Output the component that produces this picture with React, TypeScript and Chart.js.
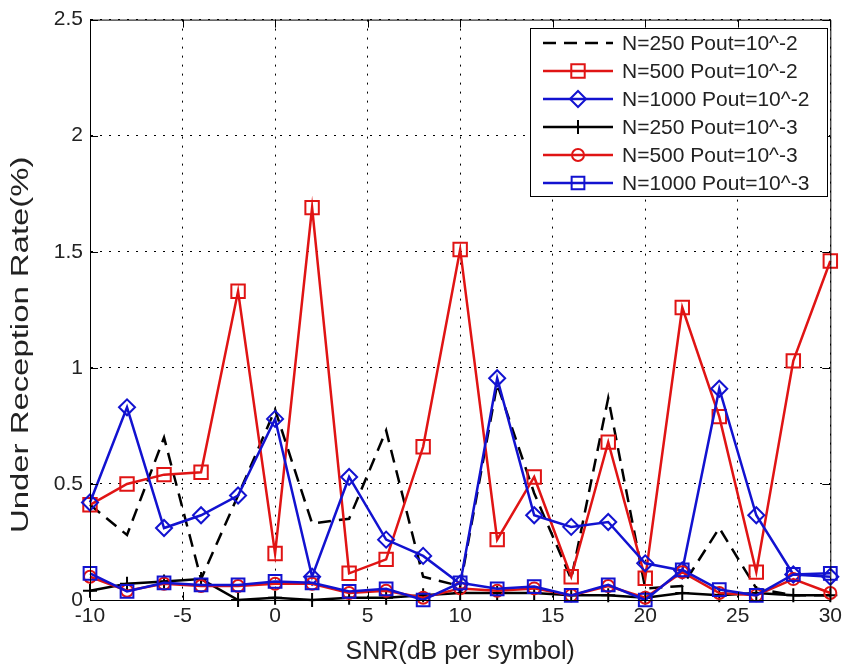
import React, { useEffect, useRef } from "react";
import { Chart, registerables } from "chart.js";
import { drawPoint } from "chart.js/helpers";

Chart.register(...registerables);

const snr = [-10, -8, -6, -4, -2, 0, 2, 4, 6, 8, 10, 12, 14, 16, 18, 20, 22, 24, 26, 28, 30];

const n250p2 = [0.41, 0.28, 0.70, 0.09, 0.45, 0.82, 0.33, 0.35, 0.73, 0.10, 0.06, 0.93, 0.46, 0.09, 0.87, 0.05, 0.06, 0.31, 0.05, 0.02, 0.02];
const n500p2 = [0.41, 0.50, 0.54, 0.55, 1.33, 0.20, 1.69, 0.115, 0.175, 0.66, 1.51, 0.26, 0.53, 0.10, 0.68, 0.094, 1.26, 0.79, 0.12, 1.03, 1.46];
const n1000p2 = [0.42, 0.83, 0.31, 0.365, 0.45, 0.78, 0.10, 0.53, 0.26, 0.19, 0.07, 0.955, 0.365, 0.315, 0.336, 0.158, 0.127, 0.91, 0.365, 0.11, 0.10];
const n250p3 = [0.04, 0.07, 0.08, 0.09, 0.0, 0.01, 0.0, 0.01, 0.01, 0.02, 0.03, 0.03, 0.03, 0.02, 0.02, 0.01, 0.03, 0.02, 0.03, 0.02, 0.02];
const n500p3 = [0.10, 0.04, 0.07, 0.06, 0.06, 0.07, 0.07, 0.03, 0.04, 0.01, 0.05, 0.04, 0.05, 0.02, 0.06, 0.01, 0.12, 0.03, 0.02, 0.09, 0.03];
const n1000p3 = [0.115, 0.037, 0.074, 0.065, 0.065, 0.08, 0.074, 0.037, 0.048, 0.0, 0.074, 0.048, 0.058, 0.02, 0.065, 0.0, 0.13, 0.045, 0.02, 0.11, 0.115];

const seriesLabels = [
  "N=250 Pout=10^-2",
  "N=500 Pout=10^-2",
  "N=1000 Pout=10^-2",
  "N=250 Pout=10^-3",
  "N=500 Pout=10^-3",
  "N=1000 Pout=10^-3",
];

const xTitle = "SNR(dB per symbol)";
const yTitle = "Under Reception Rate(%)";

const FONT = "'Liberation Sans', Arial, sans-serif";
const RED = "#e01414";
const BLUE = "#1212d0";
const BLACK = "#000000";
const TEXT = "#222222";

export default function App() {
  const ref = useRef<HTMLCanvasElement>(null);

  useEffect(() => {
    const canvas = ref.current;
    if (!canvas) return;

    const mk = (
      label: string,
      vals: number[],
      color: string,
      style: any,
      radius: number,
      dash: number[],
      order: number
    ) => ({
      label,
      data: vals.map((y, i) => ({ x: snr[i], y })),
      borderColor: color,
      backgroundColor: "rgba(0,0,0,0)",
      borderWidth: 2.5,
      borderDash: dash,
      pointStyle: style,
      pointRadius: radius,
      pointHoverRadius: radius,
      pointBorderColor: color,
      pointBackgroundColor: "rgba(0,0,0,0)",
      pointBorderWidth: 2,
      tension: 0,
      fill: false,
      clip: false as any,
      order,
    });

    const datasets = [
      mk(seriesLabels[0], n250p2, BLACK, false, 0, [13, 8], 5),
      mk(seriesLabels[1], n500p2, RED, "rect", 9.5, [], 4),
      mk(seriesLabels[2], n1000p2, BLUE, "rectRot", 8, [], 3),
      mk(seriesLabels[3], n250p3, BLACK, "cross", 7, [], 2),
      mk(seriesLabels[4], n500p3, RED, "circle", 6, [], 1),
      mk(seriesLabels[5], n1000p3, BLUE, "rect", 9, [], 0),
    ];

    const boxPlugin = {
      id: "matlabBox",
      afterDraw(chart: any) {
        const { ctx, chartArea: a, scales } = chart;
        const xs = scales.x;
        const ys = scales.y;
        ctx.save();
        ctx.strokeStyle = "#000";
        ctx.lineWidth = 1;
        ctx.setLineDash([]);
        ctx.beginPath();
        ctx.rect(a.left + 0.5, a.top + 0.5, a.right - a.left, a.bottom - a.top);
        ctx.stroke();
        const tl = 8;
        ctx.beginPath();
        xs.ticks.forEach((t: any) => {
          const px = Math.round(xs.getPixelForValue(t.value)) + 0.5;
          ctx.moveTo(px, a.bottom);
          ctx.lineTo(px, a.bottom - tl);
          ctx.moveTo(px, a.top);
          ctx.lineTo(px, a.top + tl);
        });
        ys.ticks.forEach((t: any) => {
          const py = Math.round(ys.getPixelForValue(t.value)) + 0.5;
          ctx.moveTo(a.left, py);
          ctx.lineTo(a.left + tl, py);
          ctx.moveTo(a.right, py);
          ctx.lineTo(a.right - tl, py);
        });
        ctx.stroke();

        // y-axis title (stretched along its length, like the reference)
        ctx.save();
        ctx.translate(22, (a.top + a.bottom) / 2 + 35);
        ctx.rotate(-Math.PI / 2);
        ctx.scale(1.43, 1);
        ctx.font = `23px ${FONT}`;
        ctx.fillStyle = TEXT;
        ctx.textAlign = "center";
        ctx.textBaseline = "middle";
        ctx.fillText(yTitle, 0, 0);
        ctx.restore();

        // legend
        const bx = 530, by = 28, bw = 297, bh = 168;
        ctx.fillStyle = "#fff";
        ctx.fillRect(bx, by, bw, bh);
        ctx.strokeStyle = "#000";
        ctx.lineWidth = 1;
        ctx.strokeRect(bx + 0.5, by + 0.5, bw, bh);
        ctx.font = `21px ${FONT}`;
        ctx.textBaseline = "middle";
        ctx.textAlign = "left";
        chart.data.datasets.forEach((ds: any, i: number) => {
          const cy = by + 15 + i * 28;
          ctx.strokeStyle = ds.borderColor;
          ctx.lineWidth = ds.borderWidth;
          ctx.setLineDash(ds.borderDash || []);
          ctx.beginPath();
          ctx.moveTo(543, cy);
          ctx.lineTo(613, cy);
          ctx.stroke();
          ctx.setLineDash([]);
          if (ds.pointStyle) {
            ctx.fillStyle = "rgba(0,0,0,0)";
            ctx.strokeStyle = ds.pointBorderColor;
            ctx.lineWidth = ds.pointBorderWidth;
            drawPoint(ctx, { pointStyle: ds.pointStyle, rotation: 0, radius: ds.pointRadius, borderWidth: ds.pointBorderWidth } as any, 578, cy);
          }
          ctx.fillStyle = TEXT;
          ctx.fillText(ds.label, 622, cy + 1);
        });
        ctx.restore();
      },
    };

    const chart = new Chart(canvas, {
      type: "line",
      data: { datasets: datasets as any },
      options: {
        animation: false,
        responsive: false,
        maintainAspectRatio: false,
        events: [],
        layout: { padding: { top: 15, right: 15, left: 0, bottom: 0 } },
        plugins: {
          legend: { display: false },
          tooltip: { enabled: false },
          title: { display: false },
        },
        scales: {
          x: {
            type: "linear",
            min: -10,
            max: 30,
            ticks: {
              stepSize: 5,
              color: TEXT,
              font: { family: FONT, size: 21 },
              padding: 4,
              maxRotation: 0,
              callback: (v: any) => String(v),
            },
            grid: { color: "#000", lineWidth: 1, drawTicks: false },
            border: { display: true, color: "#000", width: 1, dash: [2, 7] },
            title: {
              display: true,
              text: xTitle,
              color: TEXT,
              font: { family: FONT, size: 25 },
              padding: { top: 0, bottom: 5 },
            },
            afterFit: (s: any) => {
              s.height = 72;
            },
          },
          y: {
            type: "linear",
            min: 0,
            max: 2.5,
            ticks: {
              stepSize: 0.5,
              color: TEXT,
              font: { family: FONT, size: 21 },
              padding: 7,
              callback: (v: any) => String(v),
            },
            grid: { color: "#000", lineWidth: 1, drawTicks: false },
            border: { display: true, color: "#000", width: 1, dash: [2, 7] },
            title: { display: false, text: yTitle },
            afterFit: (s: any) => {
              s.width = 90;
            },
          },
        },
      },
      plugins: [boxPlugin],
    });

    return () => chart.destroy();
  }, []);

  return (
    <div style={{ position: "fixed", left: 0, top: 0, width: 846, height: 672, background: "#fff" }}>
      <canvas ref={ref} width={846} height={672} style={{ display: "block" }} />
    </div>
  );
}
